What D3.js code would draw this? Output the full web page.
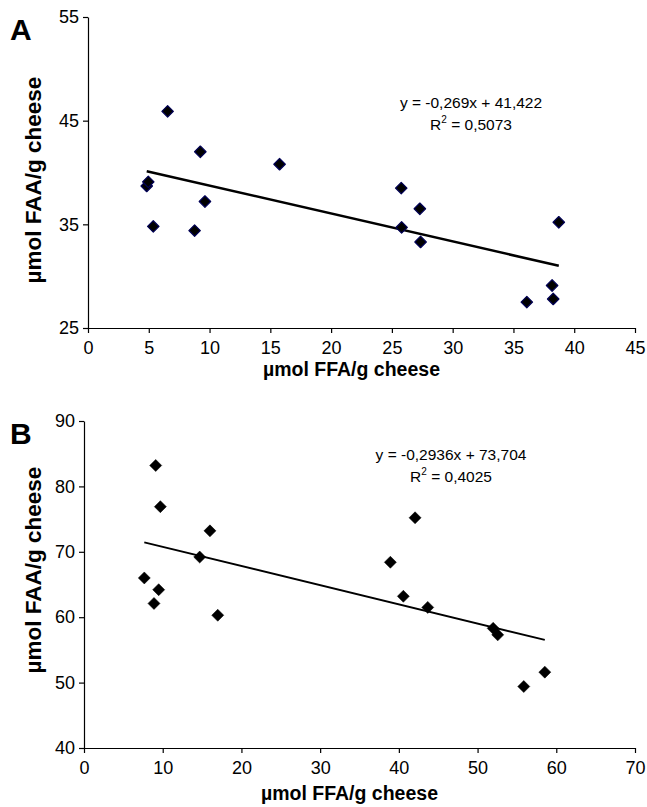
<!DOCTYPE html>
<html>
<head>
<meta charset="utf-8">
<script src="https://cdn.jsdelivr.net/npm/d3@7"></script>
<style>
  body { margin: 0; background: #fff; }
  svg text { font-family: Arial, "Liberation Sans", sans-serif; }
</style>
</head>
<body>
<svg id="chart" width="647" height="807"></svg>
<script>
// panel A data
var ffaA = [4.83, 4.96, 6.55, 5.37, 9.24, 9.62, 8.77, 15.76, 25.77, 27.3, 25.8, 27.36, 38.73, 38.18, 38.27, 36.1];
var faaA = [38.7, 39.1, 45.9, 34.8, 42.0, 37.2, 34.4, 40.8, 38.5, 36.5, 34.7, 33.3, 35.2, 29.1, 27.8, 27.5];
var fitA = {slope: -0.269, icpt: 41.422, eq: "y = -0,269x + 41,422", r2: "0,5073"};
var xTicksA = [0, 5, 10, 15, 20, 25, 30, 35, 40, 45];
var yTicksA = [25, 35, 45, 55];

// panel B data
var ffaB = [9.11, 9.7, 16.0, 14.7, 7.66, 9.49, 8.89, 16.99, 42.06, 38.92, 40.57, 43.67, 51.98, 52.56, 58.54, 55.87];
var faaB = [83.2, 76.9, 73.2, 69.2, 66.0, 64.2, 62.1, 60.3, 75.2, 68.4, 63.2, 61.5, 58.3, 57.3, 51.6, 49.4];
var fitB = {slope: -0.2936, icpt: 73.704, eq: "y = -0,2936x + 73,704", r2: "0,4025"};
var xTicksB = [0, 10, 20, 30, 40, 50, 60, 70];
var yTicksB = [40, 50, 60, 70, 80, 90];

var svg = d3.select("#chart");

function panel(opt) {
  var g = svg.append("g");
  var x = d3.scaleLinear().domain(d3.extent(opt.xTicks)).range([opt.left, opt.right]);
  var y = d3.scaleLinear().domain(d3.extent(opt.yTicks)).range([opt.bottom, opt.top]);

  var ya = g.append("g")
    .attr("transform", "translate(" + opt.left + ",0)")
    .call(d3.axisLeft(y).tickValues(opt.yTicks).tickSize(5).tickSizeOuter(0).tickPadding(4));
  var xa = g.append("g")
    .attr("transform", "translate(0," + opt.bottom + ")")
    .call(d3.axisBottom(x).tickValues(opt.xTicks).tickSize(5).tickSizeOuter(0).tickPadding(8));
  [ya, xa].forEach(function(a) {
    a.selectAll("path, line").attr("stroke", "#000").attr("stroke-width", 1.2);
    a.selectAll("text").attr("font-size", "18px").attr("fill", "#000");
  });

  // regression line over the range of the data
  var ext = d3.extent(opt.xs);
  g.append("line")
    .attr("x1", x(ext[0])).attr("y1", y(opt.fit.slope * ext[0] + opt.fit.icpt))
    .attr("x2", x(ext[1])).attr("y2", y(opt.fit.slope * ext[1] + opt.fit.icpt))
    .attr("stroke", "#000").attr("stroke-width", opt.lineW);

  var sym = d3.symbol().type(d3.symbolSquare).size(opt.msize);
  g.selectAll("path.pt")
    .data(opt.xs)
    .enter()
    .append("path")
    .attr("class", "pt")
    .attr("d", sym)
    .attr("transform", function(d, i) {
      return "translate(" + x(d) + "," + y(opt.ys[i]) + ") rotate(45)";
    })
    .attr("fill", "#000")
    .attr("stroke", opt.mstroke)
    .attr("stroke-width", opt.msw)
    .attr("stroke-linejoin", opt.join);

  g.append("text")
    .attr("x", opt.eqX).attr("y", opt.eqY)
    .attr("text-anchor", "middle")
    .attr("font-size", "15.5px")
    .text(opt.fit.eq);
  var r = g.append("text")
    .attr("x", opt.eqX).attr("y", opt.eqY + 22)
    .attr("text-anchor", "middle")
    .attr("font-size", "15.5px");
  r.append("tspan").text("R");
  r.append("tspan").attr("dy", -7).attr("font-size", "10px").text("2");
  r.append("tspan").attr("dy", 7).text(" = " + opt.fit.r2);

  g.append("text")
    .attr("x", 10).attr("y", opt.top + 23)
    .attr("font-size", "30px").attr("font-weight", "bold")
    .text(opt.label);

  g.append("text")
    .attr("x", (opt.left + opt.right) / 2 - 10).attr("y", opt.bottom + opt.xtDy)
    .attr("text-anchor", "middle")
    .attr("font-size", "19.5px").attr("font-weight", "bold")
    .text("\u00b5mol FFA/g cheese");

  g.append("text")
    .attr("transform", "translate(41," + opt.ytY + ") rotate(-90)")
    .attr("text-anchor", "middle")
    .attr("font-size", "22.5px").attr("font-weight", "bold")
    .text("\u00b5mol FAA/g cheese");
}

panel({
  xs: ffaA, ys: faaA, fit: fitA, xTicks: xTicksA, yTicks: yTicksA,
  left: 88, right: 635, top: 17, bottom: 328,
  lineW: 2.5, msize: 66, mstroke: "#000055", msw: 1.2, join: "round",
  eqX: 471, eqY: 108, label: "A", xtDy: 48, ytY: 180
});

panel({
  xs: ffaB, ys: faaB, fit: fitB, xTicks: xTicksB, yTicks: yTicksB,
  left: 84, right: 635, top: 421, bottom: 748,
  lineW: 1.8, msize: 72, mstroke: "#000", msw: 0.5, join: "miter",
  eqX: 451, eqY: 460, label: "B", xtDy: 52, ytY: 570
});
</script>
</body>
</html>
